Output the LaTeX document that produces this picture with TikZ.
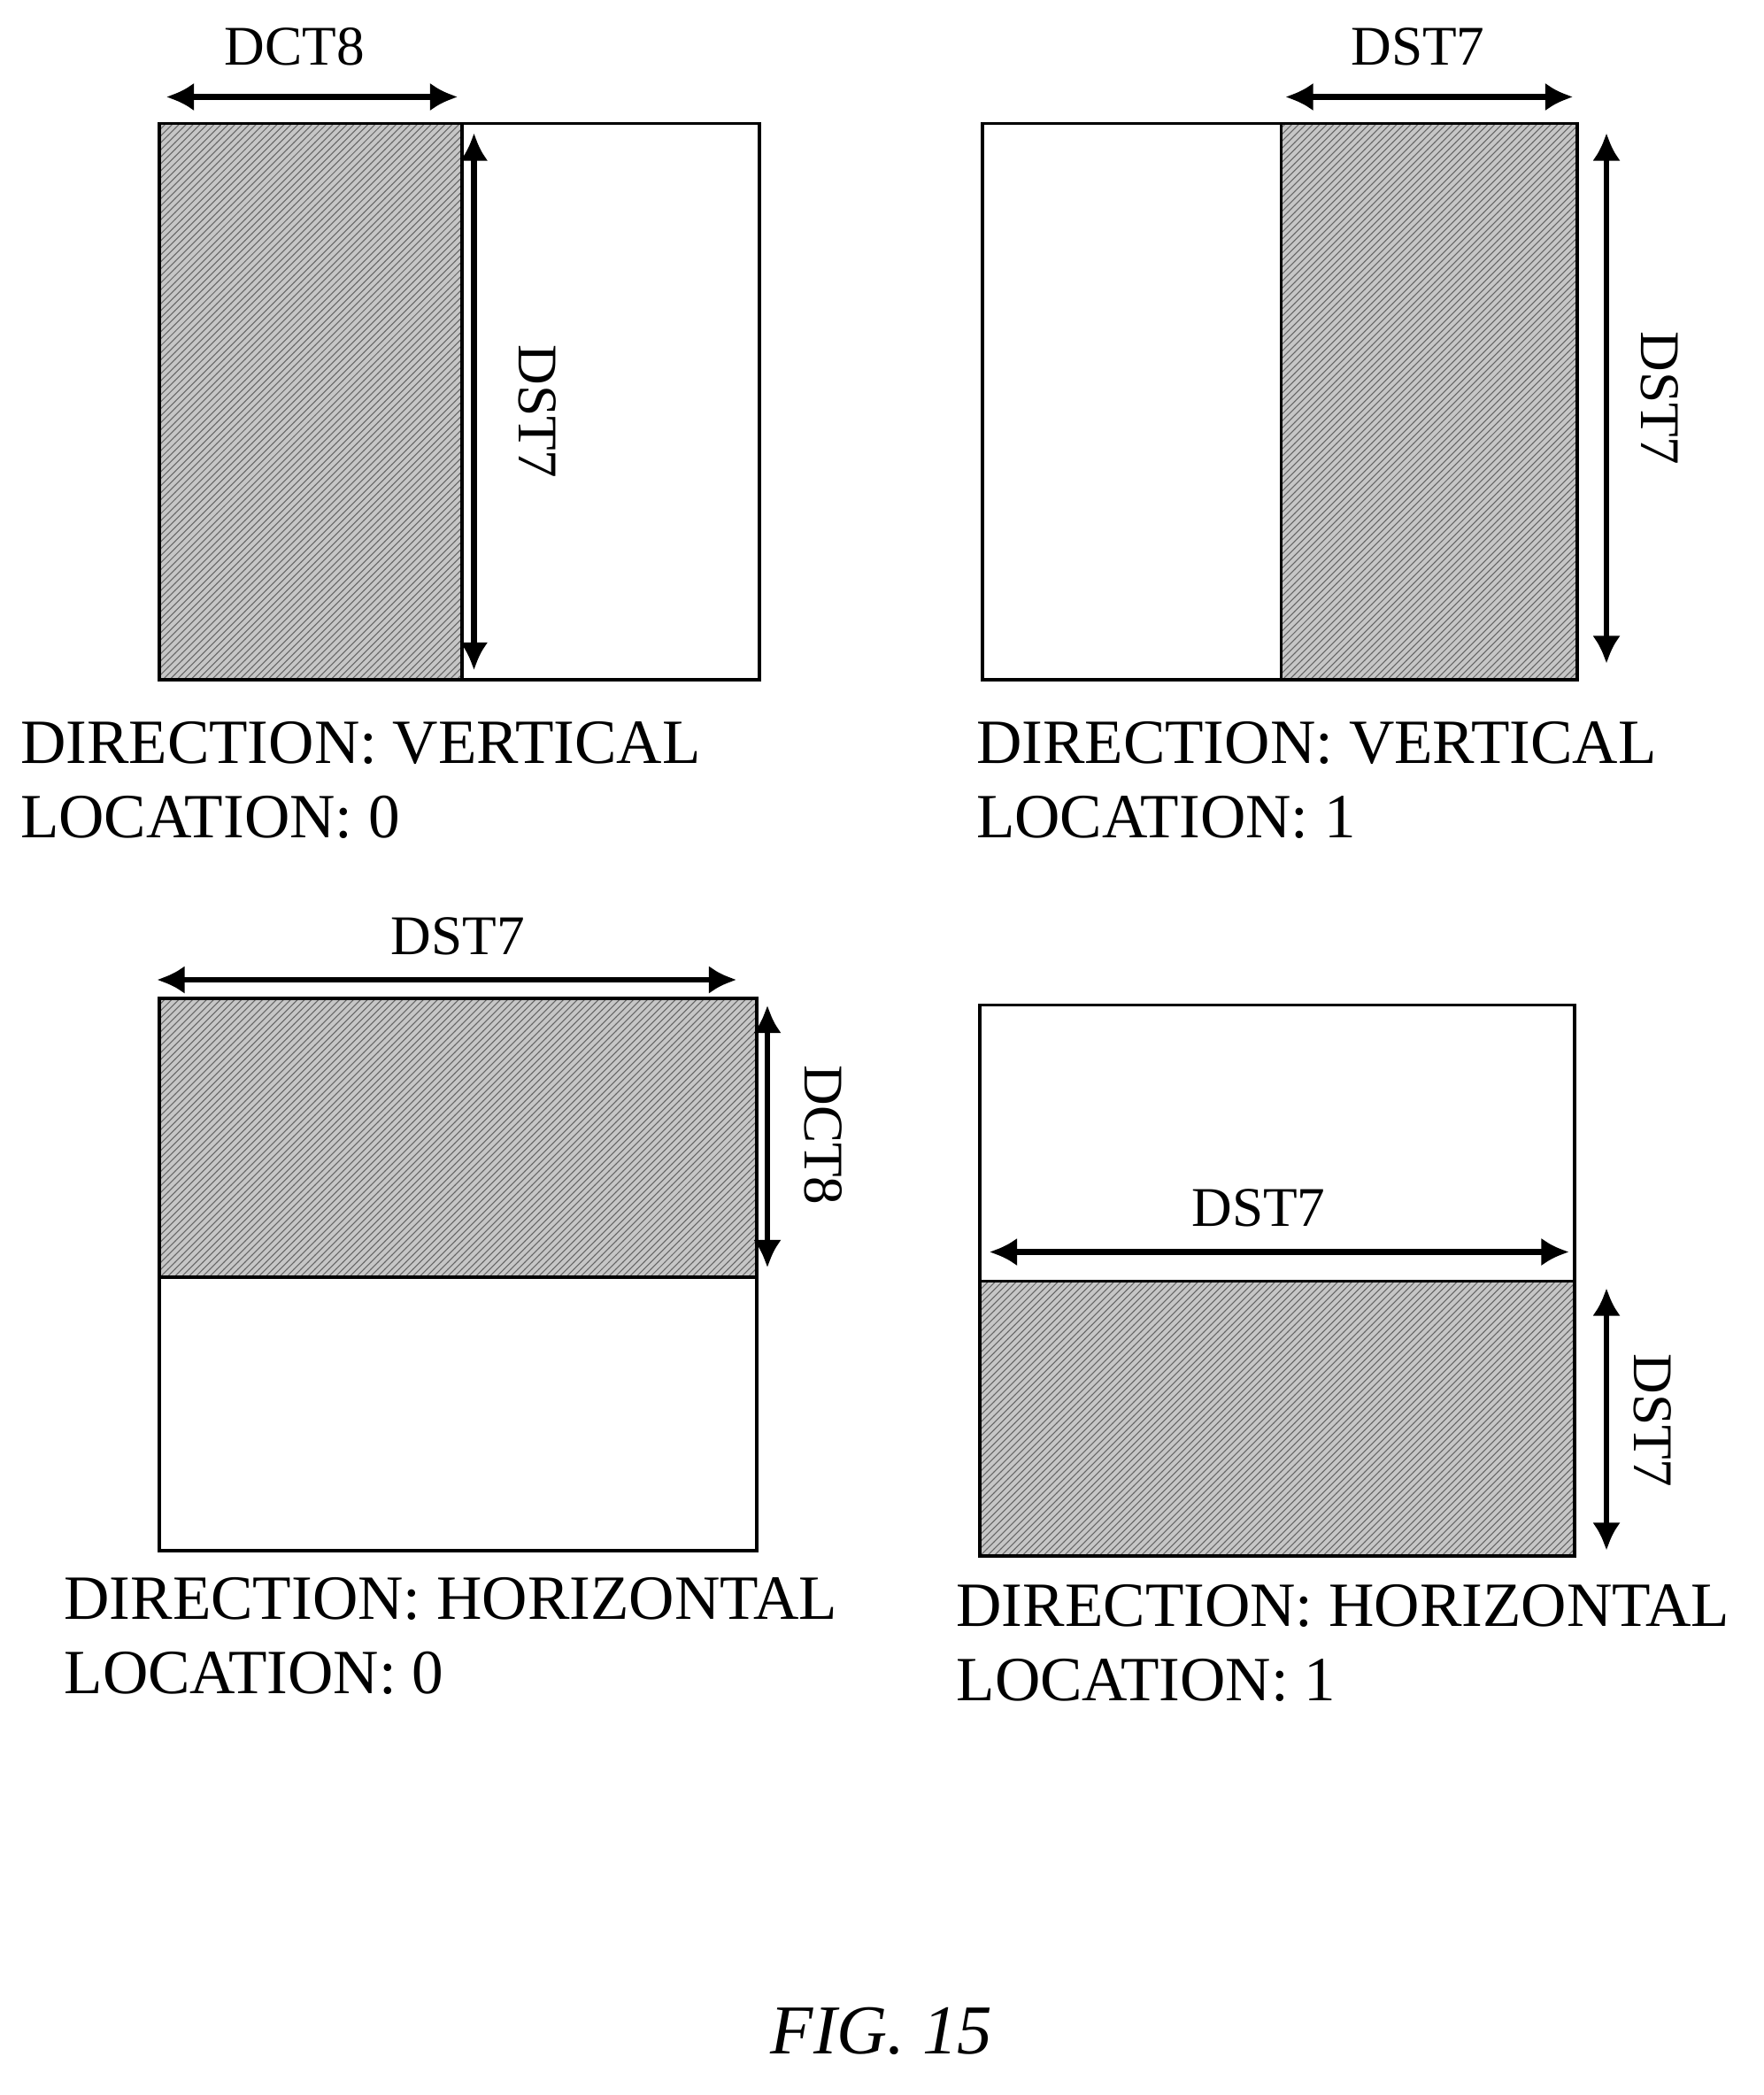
\documentclass[tikz,border=0pt]{standalone}
\usepackage{fontspec}
\setmainfont{Liberation Serif}
\usetikzlibrary{patterns,arrows.meta}
\begin{document}
\begin{tikzpicture}[x=0.02cm,y=-0.02cm,
  blk/.style={draw,line width=1.5pt},
  shd/.style={fill=gray!45,postaction={pattern=north east lines,pattern color=gray!80!black}},
  dim/.style={line width=2.5pt,{Latex[length=12pt,width=12pt]}-{Latex[length=12pt,width=12pt]}},
  lbl/.style={font=\fontsize{24}{27}\selectfont,inner sep=0pt},
  captext/.style={font=\fontsize{27}{32}\selectfont,align=left,anchor=north west,inner sep=0pt}]
\useasboundingbox (0,0) rectangle (1328,1578);
% top-left
\fill[shd] (120,93) rectangle (348,512);
\draw[blk] (120,93) rectangle (572,512);
\draw[blk] (348,93) -- (348,512);
\coordinate (a1) at (125,73); \coordinate (a2) at (345,73);
\draw[dim] (a1) -- (a2);
\node[lbl] (t1) at (222,35) {DCT8};
\coordinate (b1) at (357,100); \coordinate (b2) at (357,505);
\draw[dim] (b1) -- (b2);
\node[lbl,rotate=-90] (t2) at (405,310) {DST7};
\node[captext] (c1) at (15,543) {DIRECTION: VERTICAL\\LOCATION: 0};
% top-right
\fill[shd] (965,93) rectangle (1188,512);
\draw[blk] (740,93) rectangle (1188,512);
\draw[blk] (965,93) -- (965,512);
\coordinate (a3) at (968,73); \coordinate (a4) at (1185,73);
\draw[dim] (a3) -- (a4);
\node[lbl] (t3) at (1068,35) {DST7};
\coordinate (b3) at (1210,100); \coordinate (b4) at (1210,500);
\draw[dim] (b3) -- (b4);
\node[lbl,rotate=-90] (t4) at (1250,300) {DST7};
\node[captext] (c2) at (735,543) {DIRECTION: VERTICAL\\LOCATION: 1};
% bottom-left
\fill[shd] (120,752) rectangle (570,962);
\draw[blk] (120,752) rectangle (570,1168);
\draw[blk] (120,962) -- (570,962);
\coordinate (a5) at (118,738); \coordinate (a6) at (555,738);
\draw[dim] (a5) -- (a6);
\node[lbl] (t5) at (345,705) {DST7};
\coordinate (b5) at (578,757); \coordinate (b6) at (578,955);
\draw[dim] (b5) -- (b6);
\node[lbl,rotate=-90] (t6) at (620,855) {DCT8};
\node[captext] (c3) at (48,1188) {DIRECTION: HORIZONTAL\\LOCATION: 0};
% bottom-right
\fill[shd] (738,965) rectangle (1186,1172);
\draw[blk] (738,757) rectangle (1186,1172);
\draw[blk] (738,965) -- (1186,965);
\coordinate (a7) at (745,943); \coordinate (a8) at (1182,943);
\draw[dim] (a7) -- (a8);
\node[lbl] (t7) at (948,910) {DST7};
\coordinate (b7) at (1210,970); \coordinate (b8) at (1210,1168);
\draw[dim] (b7) -- (b8);
\node[lbl,rotate=-90] (t8) at (1245,1070) {DST7};
\node[captext] (c4) at (720,1193) {DIRECTION: HORIZONTAL\\LOCATION: 1};
\node[font=\fontsize{30}{34}\selectfont\itshape] (fig) at (664,1530) {FIG. 15};
\end{tikzpicture}
\end{document}
